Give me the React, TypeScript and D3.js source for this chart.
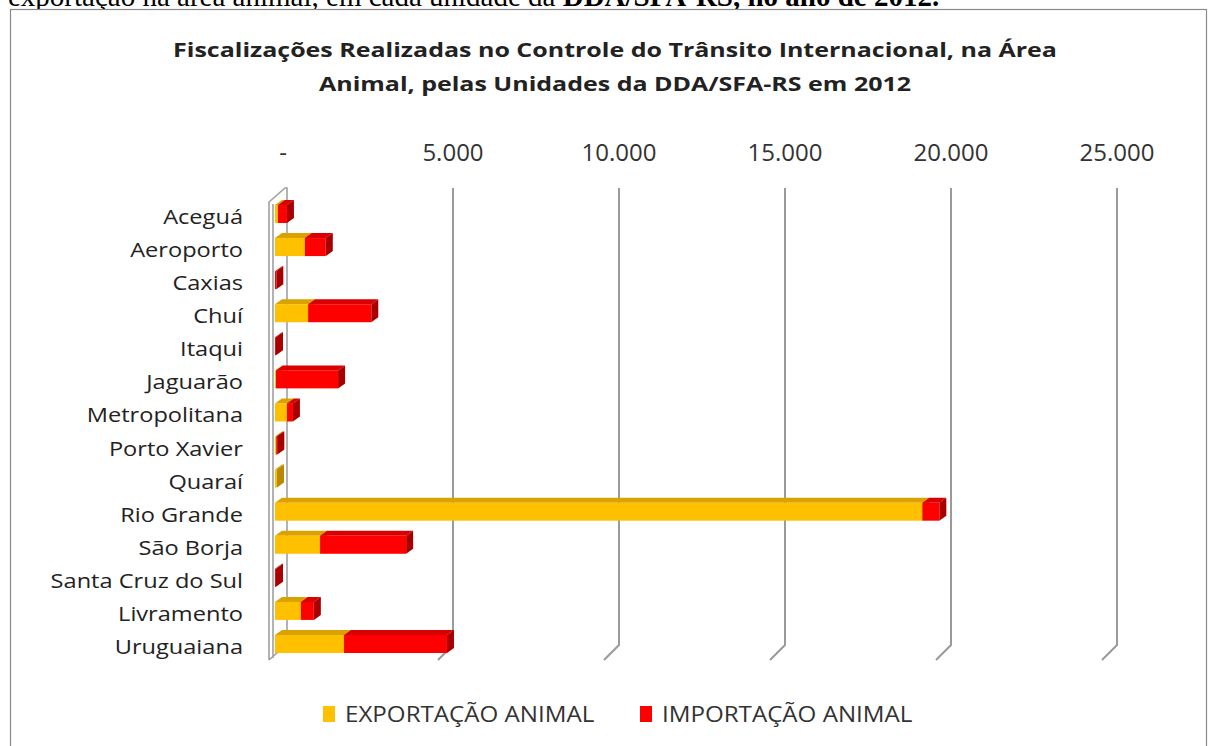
import React, { useEffect, useRef } from 'react';
import * as d3 from 'd3';

const categories = ['Aceguá', 'Aeroporto', 'Caxias', 'Chuí', 'Itaqui', 'Jaguarão', 'Metropolitana', 'Porto Xavier', 'Quaraí', 'Rio Grande', 'São Borja', 'Santa Cruz do Sul', 'Livramento', 'Uruguaiana'];
const exportacao = [90, 900, 0, 1000, 0, 30, 360, 40, 60, 19500, 1360, 0, 780, 2080];
const importacao = [270, 630, 40, 1900, 30, 1870, 180, 30, 0, 510, 2590, 30, 390, 3100];
const tickValues = [0, 5000, 10000, 15000, 20000, 25000];
const tickLabels = ['-', '5.000', '10.000', '15.000', '20.000', '25.000'];
const seriesNames = ['EXPORTAÇÃO ANIMAL', 'IMPORTAÇÃO ANIMAL'];

const FONT = '"Open Sans", sans-serif';

// front / top / side shades for each series
const SHADES = [
  { front: '#FFC000', top: '#D9A200', side: '#B88A00' },
  { front: '#FF0000', top: '#D80000', side: '#A80000' },
];

// the source picture is stretched sideways, so text gets a horizontal scale
const place = (x: number, y: number, sx: number) => `translate(${x},${y}) scale(${sx},1)`;

function App() {
  const svgRef = useRef<SVGSVGElement>(null);

  useEffect(() => {
    const svg = d3.select(svgRef.current);
    svg.selectAll('*').remove();

    // scale on the back wall; bars sit 12px in front of it
    const xBack = d3.scaleLinear().domain([0, 25000]).range([287, 1117]);
    const xFront = (v: number) => xBack(v) - 12;
    const y = d3.scalePoint().domain(categories).range([212, 642]);

    const plotTop = 188;
    const plotBottom = 645;
    const depth = 15;

    // cut-off caption line from the document above
    const caption = svg.append('text')
      .attr('x', 8)
      .attr('y', 6)
      .attr('font-family', '"Liberation Serif", serif')
      .attr('font-size', 29)
      .attr('fill', '#000');
    caption.append('tspan').text('exportação na área animal, em cada unidade da ');
    caption.append('tspan').attr('font-weight', 'bold').text('DDA/SFA-RS, no ano de 2012.');

    // chart frame
    svg.append('rect')
      .attr('x', 10.5)
      .attr('y', 9.5)
      .attr('width', 1196)
      .attr('height', 760)
      .attr('fill', '#fff')
      .attr('stroke', '#8a8a8a')
      .attr('stroke-width', 1.2);

    // title
    const titleLines = [
      'Fiscalizações Realizadas no Controle do Trânsito Internacional, na Área',
      'Animal, pelas Unidades da DDA/SFA-RS em 2012',
    ];
    svg.append('g')
      .selectAll('text')
      .data(titleLines)
      .enter().append('text')
      .attr('transform', (d, i) => place(615, 57 + i * 34, 1.25))
      .attr('text-anchor', 'middle')
      .attr('font-family', FONT)
      .attr('font-weight', 'bold')
      .attr('font-size', 20)
      .attr('fill', '#222')
      .text(d => d);

    // gridlines (back wall + floor slant)
    svg.append('g')
      .selectAll('path')
      .data(tickValues.slice(1))
      .enter().append('path')
      .attr('d', d => `M${xBack(d)},${plotTop} L${xBack(d)},${plotBottom} L${xBack(d) - depth},${plotBottom + depth}`)
      .attr('fill', 'none')
      .attr('stroke', '#9a9a9a')
      .attr('stroke-width', 2);

    // side wall at zero
    const x0 = xBack(0);
    svg.append('path')
      .attr('d', `M${x0 - 18},${plotBottom + depth} L${x0 - 18},${plotTop + 14} L${x0 - 2},${plotTop} L${x0},${plotTop} L${x0},${plotBottom} M${x0 - 18},${plotBottom + depth} L${x0 - 2},${plotBottom + 1} M${x0 - 14},${plotTop + 16} L${x0 - 14},${plotBottom + depth - 2}`)
      .attr('fill', 'none')
      .attr('stroke', '#a0a0a0')
      .attr('stroke-width', 1.6);

    // tick labels on top
    svg.append('g')
      .selectAll('text')
      .data(tickValues)
      .enter().append('text')
      .attr('x', (d, i) => (i === 0 ? xBack(d) - 4 : xBack(d)))
      .attr('y', 161)
      .attr('text-anchor', 'middle')
      .attr('font-family', FONT)
      .attr('font-size', 24)
      .attr('fill', '#333')
      .text((d, i) => tickLabels[i]);

    // category labels
    svg.append('g')
      .selectAll('text')
      .data(categories)
      .enter().append('text')
      .attr('transform', d => place(243, (y(d) as number) + 12, 1.18))
      .attr('text-anchor', 'end')
      .attr('font-family', FONT)
      .attr('font-size', 20)
      .attr('fill', '#222')
      .text(d => d);

    // stacked 3D bars
    const dx = 7;
    const dy = -5;
    const bars = svg.append('g');
    categories.forEach((cat, i) => {
      const cy = y(cat) as number;
      const ft = cy - 7;
      const fb = cy + 11;
      const vals = [exportacao[i], importacao[i]];
      let start = 0;
      vals.forEach((v, s) => {
        if (v <= 0) return;
        const x1 = xFront(start);
        const x2 = xFront(start + v);
        const c = SHADES[s];
        bars.append('polygon')
          .attr('points', `${x1},${ft} ${x2},${ft} ${x2 + dx},${ft + dy} ${x1 + dx},${ft + dy}`)
          .attr('fill', c.top);
        bars.append('polygon')
          .attr('points', `${x2},${ft} ${x2 + dx},${ft + dy} ${x2 + dx},${fb + dy} ${x2},${fb}`)
          .attr('fill', c.side);
        bars.append('rect')
          .attr('x', x1)
          .attr('y', ft)
          .attr('width', x2 - x1)
          .attr('height', fb - ft)
          .attr('fill', c.front);
        start += v;
      });
    });

    // legend
    const legendX = [323, 640];
    const legend = svg.append('g');
    seriesNames.forEach((name, i) => {
      legend.append('rect')
        .attr('x', legendX[i])
        .attr('y', 706)
        .attr('width', 12)
        .attr('height', 16)
        .attr('fill', SHADES[i].front);
      legend.append('text')
        .attr('transform', place(legendX[i] + 22, 722, 1.15))
        .attr('font-family', FONT)
        .attr('font-size', 21)
        .attr('fill', '#333')
        .text(name);
    });
  }, []);

  return (
    <div style={{ position: 'absolute', left: 0, top: 0, background: '#fff' }}>
      <svg ref={svgRef} width={1209} height={746} style={{ display: 'block' }}></svg>
    </div>
  );
}

export default App;
